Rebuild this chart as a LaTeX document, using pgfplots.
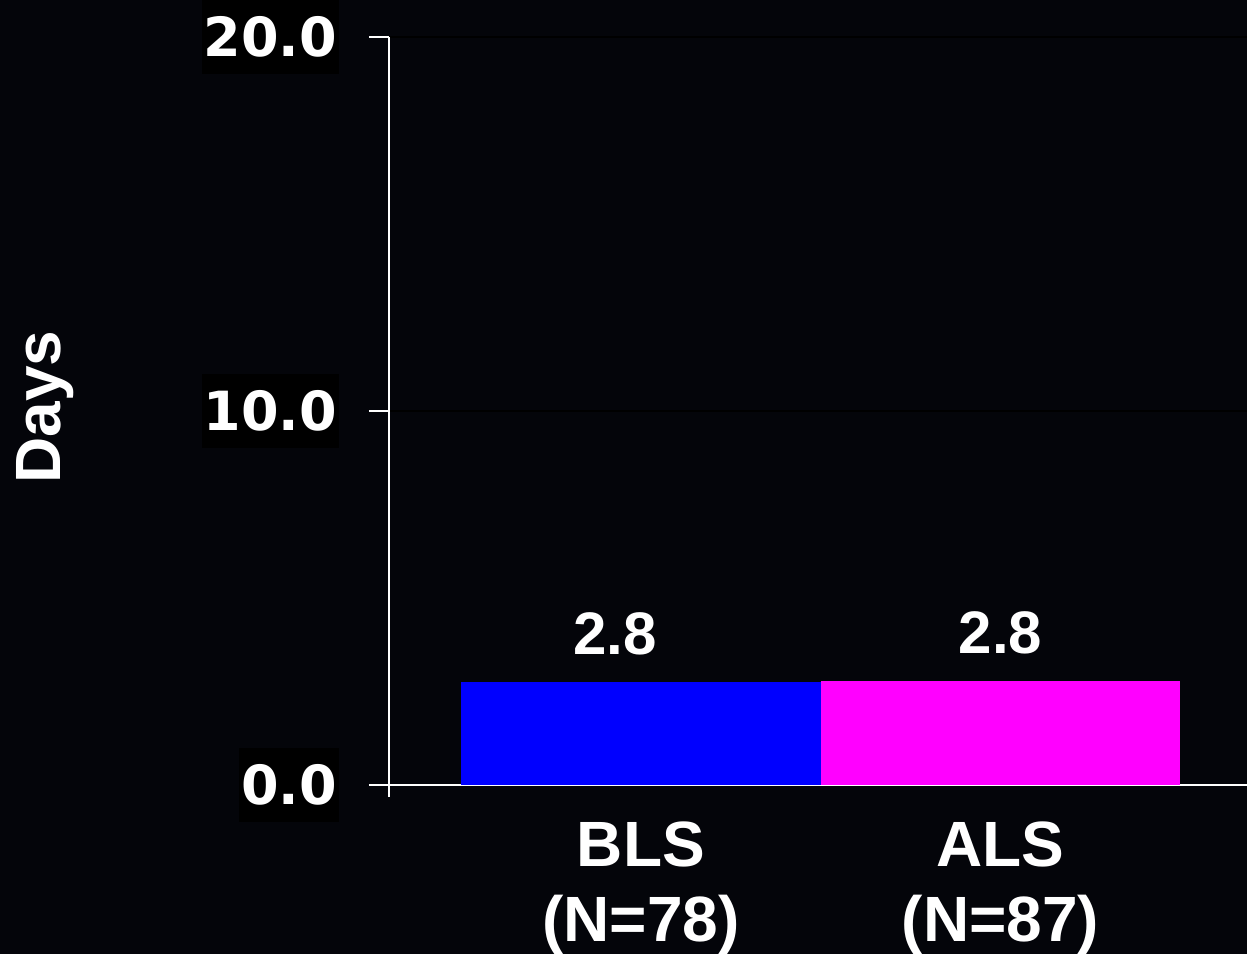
\documentclass[border=0pt]{standalone}
\usepackage{fontspec}
\setmainfont{Liberation Sans}
\newfontfamily\dvb{DejaVu Sans}[BoldFont=* Bold]
\usepackage{pgfplots}
\pgfplotsset{compat=1.18}
\definecolor{bg}{RGB}{4,5,10}
\definecolor{blu}{RGB}{0,0,255}
\definecolor{mag}{RGB}{255,0,255}
\begin{document}
\begin{tikzpicture}
\fill[bg] (0,0) rectangle (1247pt,954pt);
\useasboundingbox (0,0) rectangle (1247pt,954pt);
\begin{axis}[
  at={(389pt,169pt)}, anchor=south west,
  scale only axis, width=858pt, height=748pt,
  xmin=0.299, xmax=2.686, ymin=0, ymax=20,
  axis x line*=bottom, axis y line*=left,
  axis line style={white, line width=2pt},
  ytick={0,10,20}, yticklabels={0.0,10.0,20.0},
  tick align=outside, major tick length=20pt,
  ytick style={white, line width=2pt},
  xtick={1,2}, xticklabels={{BLS\\(N=78)},{ALS\\(N=87)}},
  xtick style={draw=none},
  ymajorgrids, major grid style={black, line width=1.5pt},
  yticklabel style={font=\dvb\bfseries\fontsize{54}{60}\selectfont, text=white, fill=black, inner xsep=2pt, inner ysep=17pt, anchor=east, xshift=-30pt},
  xticklabel style={font=\bfseries\fontsize{64}{75}\selectfont, text=white, align=center, anchor=north, inner sep=0pt, yshift=-17pt},
  ylabel={Days},
  every axis y label/.style={at={(axis description cs:-0.4010,0.505)}, rotate=90, anchor=center, font=\bfseries\fontsize{64}{70}\selectfont, text=white},
  clip=false,
  nodes near coords, point meta=explicit symbolic,
  every node near coord/.style={font=\bfseries\fontsize{60}{60}\selectfont, text=white, anchor=south, inner sep=0pt, yshift=27pt},
]
\addplot[ybar, bar width=1, bar shift=0pt, fill=blu, draw=none, every node near coord/.append style={xshift=-26pt}] coordinates {(1,2.75) [2.8]};
\addplot[ybar, bar width=1, bar shift=0pt, fill=mag, draw=none] coordinates {(2,2.78) [2.8]};
\draw[white, line width=2pt] (rel axis cs:0,0) -- ([yshift=-12pt]rel axis cs:0,0);
\end{axis}
\end{tikzpicture}
\end{document}
